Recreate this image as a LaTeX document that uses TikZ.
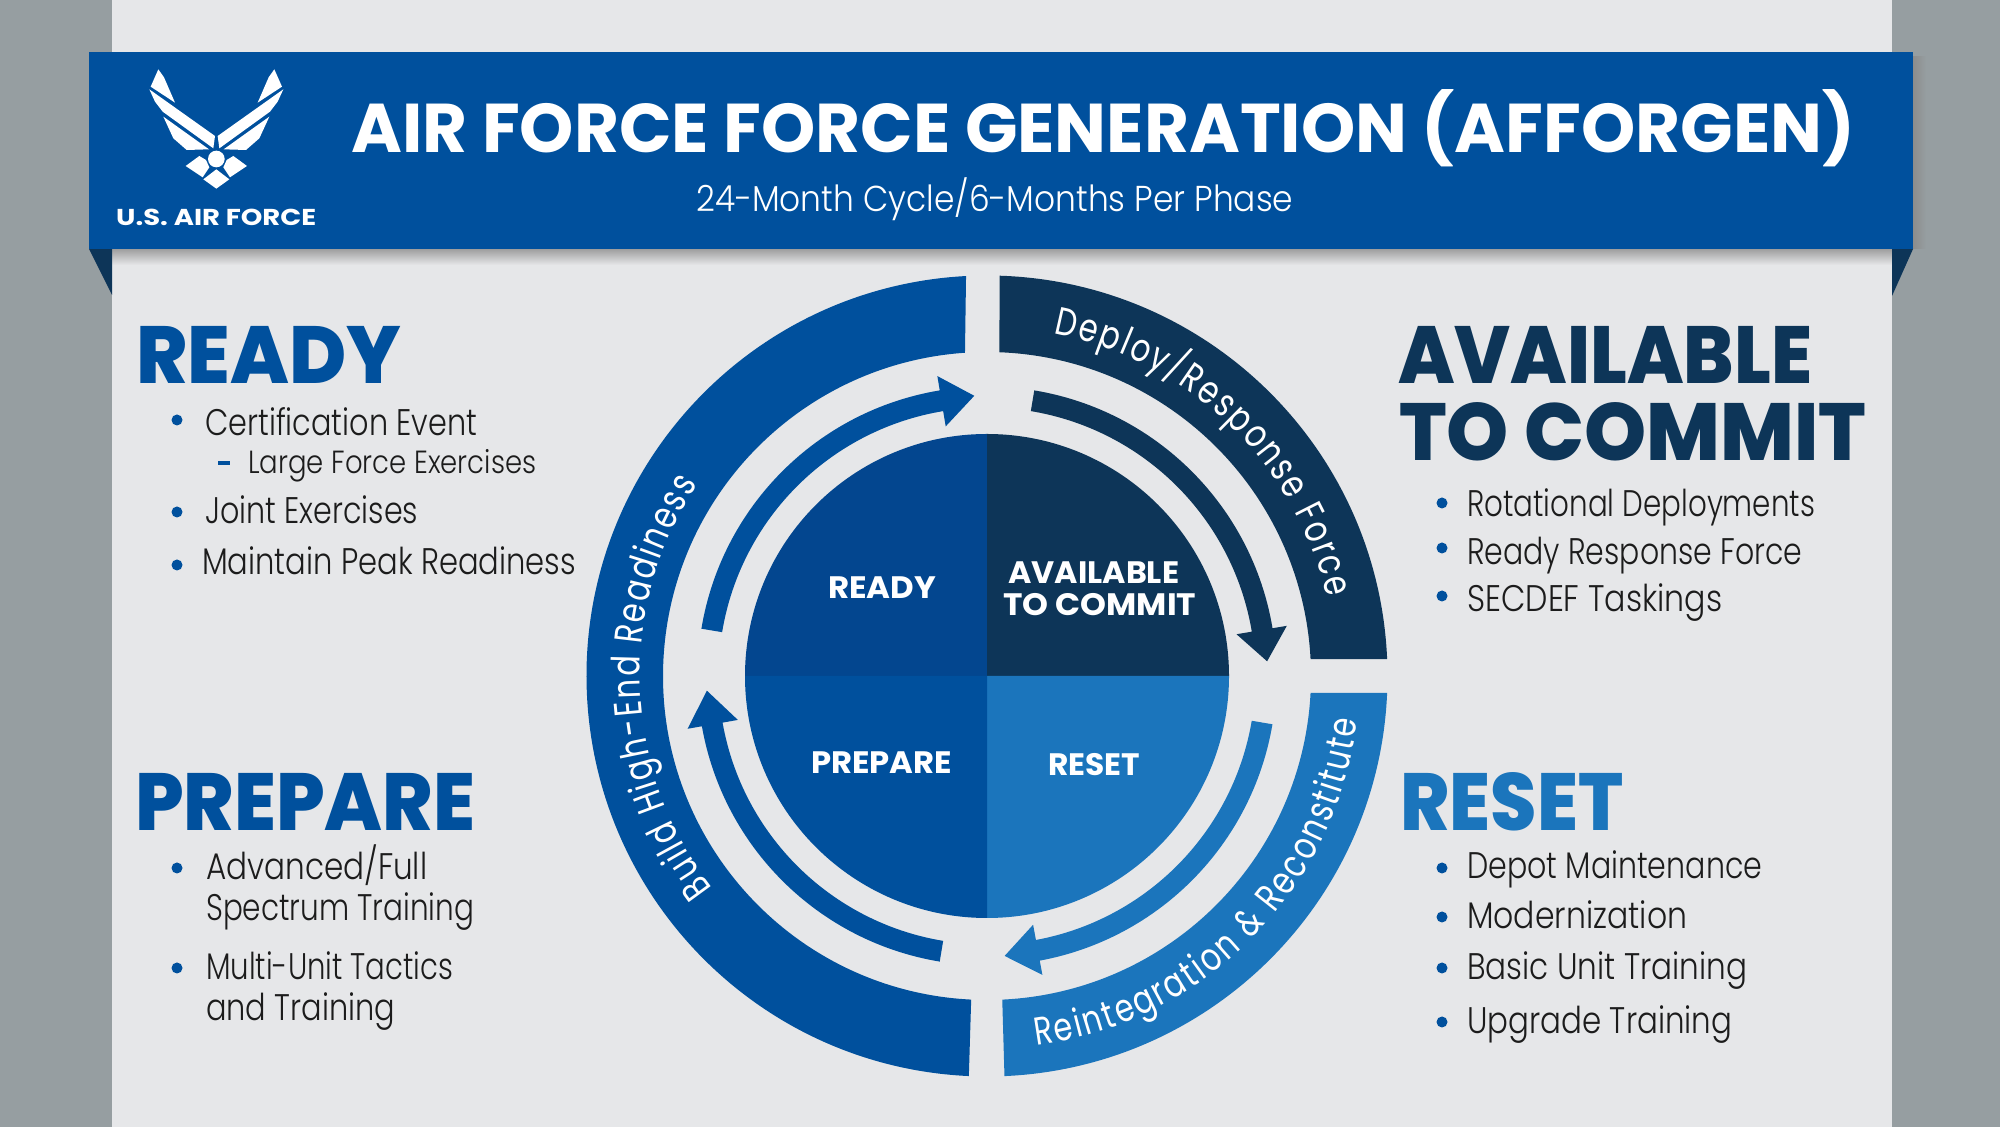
\documentclass[tikz,border=0pt]{standalone}
\usepackage{fontspec}
\usepackage{graphicx}
\usetikzlibrary{decorations.text}
\newfontfamily\popl[UprightFont={* Light},BoldFont={* Bold}]{Poppins}
\newfontfamily\popb[UprightFont={* Bold}]{Poppins}
\newfontfamily\popx[UprightFont={* ExtraBold}]{Poppins}
\definecolor{panelbg}{HTML}{E6E7E9}
\definecolor{sidegray}{HTML}{969EA1}
\definecolor{afblue}{HTML}{00509D}
\definecolor{readyblue}{HTML}{03468F}
\definecolor{navy}{HTML}{0D3558}
\definecolor{midblue}{HTML}{1B75BC}
\definecolor{bodyink}{HTML}{1C1C1C}
\newcommand{\fitw}[2]{\setbox0=\hbox{#2}\pgfmathsetmacro{\fitr}{#1/\the\wd0}\scalebox{\fitr}[1]{\box0}}
\newcommand{\tx}[7]{\node[anchor=base west,inner sep=0pt,text=#6] (#1) at (#2,{1127-#3}) {\fitw{#4}{#5#7}};}
\newcommand{\hd}{\popx\fontsize{81}{81}\selectfont}
\newcommand{\bd}{\popl\fontsize{37}{37}\selectfont}
\newcommand{\bds}{\popl\fontsize{32}{32}\selectfont}
\newcommand{\ctr}{\popb\fontsize{31}{31}\selectfont}
\newcommand{\dotat}[3]{\fill[#3] (#1,{1127-#2}) circle[radius=5.5];}
\newcommand{\arr}[4]{\fill[#4] (#1:289.5) arc[start angle=#1,end angle=#2,radius=289.5] -- (#2:304) -- (#3:280.5) -- (#2:253) -- (#2:268.5) arc[start angle=#2,end angle=#1,radius=268.5] -- cycle;}
\newcommand{\seg}[5]{\fill[#5] (#1:400.5) arc[start angle=#1,end angle=#2,radius=400.5] -- (#3:324) arc[start angle=#3,end angle=#4,radius=324] -- cycle;}
\newfontfamily\ringfont[FakeStretch=0.78]{Poppins}
\newcommand{\ringtext}{\ringfont\fontsize{39}{39}\selectfont\color{white}}
\begin{document}
\begin{tikzpicture}[x=1pt,y=1pt]
\useasboundingbox (0,0) rectangle (2000,1127);
% backdrop
\fill[sidegray] (0,0) rectangle (2000,1127);
\fill[panelbg] (112,0) rectangle (1892,1127);
% header shadow
\shade[top color=black!38,bottom color=panelbg] (112,878) rectangle (1892,862);
\shade[left color=black!45,right color=sidegray] (1913,878) rectangle (1926,1070);
% folds
\fill[navy] (89,878) -- (112,878) -- (112,832) -- cycle;
\fill[navy] (1913,878) -- (1892,878) -- (1892,831) -- cycle;
% header
\fill[afblue] (89,878) rectangle (1913,1075);
% logo
\begin{scope}[shift={(140,1067)},xscale=1/3,yscale=-1/3]
\fill[white] (55,28) -- (72,52) -- (105,128) -- (32,80) -- cycle;
\fill[white] (28,88) -- (225,228) -- (220,265) -- (68,155) -- (45,125) -- cycle;
\fill[white] (70,170) -- (207,268) -- (140,270) -- (100,235) -- cycle;
\fill[white] (403,28) -- (386,52) -- (353,128) -- (426,80) -- cycle;
\fill[white] (430,88) -- (233,228) -- (238,265) -- (390,155) -- (413,125) -- cycle;
\fill[white] (388,170) -- (251,268) -- (318,270) -- (358,235) -- cycle;
\fill[white] (229,297) circle[radius=25];
\fill[white] (137,318) -- (178,288) -- (198,300) -- (208,322) -- (188,352) -- cycle;
\fill[white] (321,318) -- (280,288) -- (260,300) -- (250,322) -- (270,352) -- cycle;
\fill[white] (229,328) -- (268,358) -- (229,386) -- (190,358) -- cycle;
\end{scope}
\tx{usaf}{116}{226}{200}{\popb\fontsize{23}{23}\selectfont}{white}{U.S. AIR FORCE}
\tx{title}{351}{153}{1504}{\popb\fontsize{69}{69}\selectfont}{white}{AIR FORCE FORCE GENERATION (AFFORGEN)}
\tx{subtitle}{696}{212}{597}{\popl\fontsize{36}{36}\selectfont}{white}{24-Month Cycle/6-Months Per Phase}
% ring and disc
\begin{scope}[shift={(987,451)}]
\seg{93}{267.4}{267.2}{93.9}{afblue}
\seg{88.2}{2.4}{3}{87.8}{navy}
\seg{-87.5}{-2.4}{-3}{-87.3}{midblue}
\fill[readyblue] (0,0) -- (0,242) arc[start angle=90,end angle=180,radius=242] -- cycle;
\fill[navy] (0,0) -- (242,0) arc[start angle=0,end angle=90,radius=242] -- cycle;
\fill[midblue] (0,0) -- (0,-242) arc[start angle=270,end angle=360,radius=242] -- cycle;
\fill[afblue] (0,0) -- (-242,0) arc[start angle=180,end angle=270,radius=242] -- cycle;
\arr{170.6}{99.4}{92.6}{afblue}
\arr{80.6}{9.5}{3}{navy}
\arr{-9.6}{-79.5}{-86.4}{midblue}
\arr{260.6}{190}{183}{afblue}
\path[decorate,decoration={text along path,text align=fit to path,text={|\ringtext|Deploy/Response Force}}] (79:349) arc[start angle=79,end angle=13,radius=349];
\path[decorate,decoration={text along path,text align=fit to path,text={|\ringtext|Build High-End Readiness}}] (217.7:347) arc[start angle=217.7,end angle=146.5,radius=347];
\path[decorate,decoration={text along path,text align=fit to path,text={|\ringtext|Reintegration {\&} Reconstitute}}] (-82.4:373) arc[start angle=-82.4,end angle=-6.8,radius=373];
\end{scope}
% disc labels
\tx{cready}{828}{599}{108}{\ctr}{white}{READY}
\tx{cavail}{1008}{584}{171}{\ctr}{white}{AVAILABLE}
\tx{ccommit}{1003}{616}{193}{\ctr}{white}{TO COMMIT}
\tx{cprep}{811}{774}{141}{\ctr}{white}{PREPARE}
\tx{creset}{1048}{776}{92}{\ctr}{white}{RESET}
% READY
\tx{hready}{136}{384}{265}{\hd}{afblue}{READY}
\dotat{177}{420}{afblue}
\tx{r1}{205}{436}{272}{\bd}{bodyink}{Certification Event}
\fill[afblue] (218,{1127-461}) rectangle (230,{1127-465});
\tx{r2}{248}{473.5}{288}{\bds}{bodyink}{Large Force Exercises}
\dotat{177}{512}{afblue}
\tx{r3}{205}{524}{213}{\bd}{bodyink}{Joint Exercises}
\dotat{177}{565}{afblue}
\tx{r4}{202}{575}{374}{\bd}{bodyink}{Maintain Peak Readiness}
% AVAILABLE
\tx{ha1}{1398}{384}{414}{\hd}{navy}{AVAILABLE}
\tx{ha2}{1399}{461}{467}{\hd}{navy}{TO COMMIT}
\dotat{1442}{503}{afblue}
\tx{a1}{1467}{517}{348}{\bd}{bodyink}{Rotational Deployments}
\dotat{1442}{548}{afblue}
\tx{a2}{1467}{565}{335}{\bd}{bodyink}{Ready Response Force}
\dotat{1442}{596}{afblue}
\tx{a3}{1467}{612}{255}{\bd}{bodyink}{SECDEF Taskings}
% PREPARE
\tx{hprep}{135}{831}{340}{\hd}{afblue}{PREPARE}
\dotat{177}{868}{afblue}
\tx{p1}{206}{880}{221}{\bd}{bodyink}{Advanced/Full}
\tx{p2}{206}{921}{268}{\bd}{bodyink}{Spectrum Training}
\dotat{177}{968}{afblue}
\tx{p3}{206}{980}{247}{\bd}{bodyink}{Multi-Unit Tactics}
\tx{p4}{206}{1021}{189}{\bd}{bodyink}{and Training}
% RESET
\tx{hreset}{1400}{831}{223}{\hd}{midblue}{RESET}
\dotat{1442}{868}{afblue}
\tx{s1}{1467}{879}{295}{\bd}{bodyink}{Depot Maintenance}
\dotat{1442}{917}{afblue}
\tx{s2}{1467}{929}{220}{\bd}{bodyink}{Modernization}
\dotat{1442}{968}{afblue}
\tx{s3}{1467}{980}{280}{\bd}{bodyink}{Basic Unit Training}
\dotat{1442}{1022}{afblue}
\tx{s4}{1467}{1034}{265}{\bd}{bodyink}{Upgrade Training}
\end{tikzpicture}
\end{document}
